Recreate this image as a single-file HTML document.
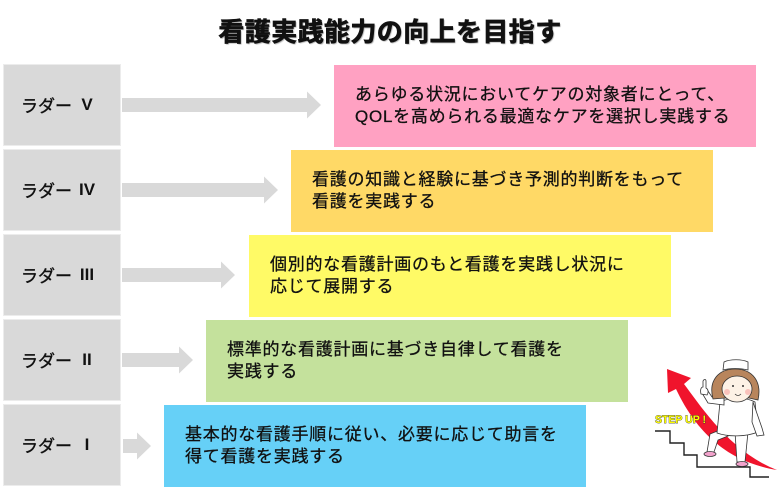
<!DOCTYPE html>
<html><head><meta charset="utf-8">
<style>
html,body{margin:0;padding:0;background:#fff;}
body{width:780px;height:500px;position:relative;overflow:hidden;font-family:"Liberation Sans","Noto Sans CJK JP",sans-serif;}
.title{position:absolute;left:0;width:780px;top:14px;text-align:center;font-size:26px;font-weight:bold;letter-spacing:0.4px;line-height:34px;color:#111;text-shadow:1px 1px 1px #aaa;-webkit-text-stroke:0.7px #111;font-family:"Noto Sans CJK JP",sans-serif;}
.lad{position:absolute;left:3px;width:118px;height:82px;background:#d9d9d9;border:1px solid #ececec;box-sizing:border-box;}
.lt{position:absolute;left:17px;top:29px;font-size:17px;line-height:22px;letter-spacing:0px;color:#111;-webkit-text-stroke:0.4px #111;font-family:"Noto Sans CJK JP",sans-serif;}
.num{position:absolute;left:70px;width:26px;top:29px;text-align:center;font-size:17px;font-weight:bold;line-height:22px;color:#111;font-family:"Liberation Sans",sans-serif;}
.box{position:absolute;width:422px;height:82px;box-sizing:border-box;padding:19px 0 0 21px;font-size:17px;line-height:22px;letter-spacing:0.75px;color:#111;-webkit-text-stroke:0.3px #111;font-family:"Liberation Sans","Noto Sans CJK JP",sans-serif;white-space:nowrap;}
svg{position:absolute;left:0;top:0;}
</style></head><body>
<div class="title">看護実践能力の向上を目指す</div>

<div class="lad" style="top:64px"><span class="lt">ラダー</span><span class="num">V</span></div>
<div class="lad" style="top:149px"><span class="lt">ラダー</span><span class="num">IV</span></div>
<div class="lad" style="top:234px"><span class="lt">ラダー</span><span class="num">III</span></div>
<div class="lad" style="top:319px"><span class="lt">ラダー</span><span class="num">II</span></div>
<div class="lad" style="top:404px"><span class="lt">ラダー</span><span class="num">I</span></div>

<div class="box" style="left:334px;top:65px;background:#ffa1c2;">あらゆる状況においてケアの対象者にとって、<br>QOLを高められる最適なケアを選択し実践する</div>
<div class="box" style="left:291px;top:150px;background:#ffd966;">看護の知識と経験に基づき予測的判断をもって<br>看護を実践する</div>
<div class="box" style="left:249px;top:235px;background:#fffa66;">個別的な看護計画のもと看護を実践し状況に<br>応じて展開する</div>
<div class="box" style="left:206px;top:320px;background:#c4e19c;">標準的な看護計画に基づき自律して看護を<br>実践する</div>
<div class="box" style="left:164px;top:405px;background:#66d0f7;">基本的な看護手順に従い、必要に応じて助言を<br>得て看護を実践する</div>

<svg width="780" height="500" viewBox="0 0 780 500">
  <g fill="#d9d9d9">
    <polygon points="122,98 307,98 307,91.5 321,105 307,118.5 307,112 122,112"/>
    <polygon points="122,183 264,183 264,176.5 278,190 264,203.5 264,197 122,197"/>
    <polygon points="122,268 221,268 221,261.5 235,275 221,288.5 221,282 122,282"/>
    <polygon points="122,353 179,353 179,346.5 193,360 179,373.5 179,367 122,367"/>
    <polygon points="123,439 137,439 137,432.5 151,446 137,459.5 137,453 123,453"/>
  </g>
  <!-- stairs -->
  <polyline points="655,431 670,431 670,443 684,443 684,455 697,455 697,467 750,467 750,477 769,477" fill="none" stroke="#222" stroke-width="1.4"/>
  <!-- red arrow -->
  <path d="M667,369 L691,378 L684,384 C700,405 730,452 777,470 C735,463 700,440 676,389 L668,393 Z" fill="#f0142c"/>
  <!-- STEP UP -->
  <text x="655" y="423" font-family="Liberation Sans, sans-serif" font-weight="bold" font-size="11" fill="#ffff00" stroke="#333" stroke-width="0.7" paint-order="stroke" textLength="51" lengthAdjust="spacingAndGlyphs">STEP UP !</text>
  <!-- nurse -->
  <g stroke="#333" stroke-width="0.8">
    <!-- legs -->
    <path d="M720,430 L710,434 L707,452 L714,452 L718,440 L728,436 Z" fill="#fff"/>
    <path d="M735,432 L737,462 L745,462 L748,432 Z" fill="#fff"/>
    <ellipse cx="710" cy="454" rx="6" ry="2.5" fill="#f2a2cc"/>
    <ellipse cx="742" cy="464" rx="6" ry="2.5" fill="#f2a2cc"/>
    <!-- body -->
    <path d="M720,402 C730,397 746,397 755,402 L758,432 C746,437 728,437 717,433 Z" fill="#fff"/>
    <!-- right arm -->
    <path d="M753,402 L762,428 L764,435 L757,436 L752,422 Z" fill="#fff"/>
    <!-- left arm raised -->
    <path d="M724,405 L708,403 L702,393 L708,391 L712,397 L724,398 Z" fill="#fff"/>
    <path d="M701,394 C700,390 701,387 703,387 L703,381 C704,379 706,379 706,381 L706,388 C708,389 709,392 707,395 Z" fill="#fff"/>
    <!-- hair -->
    <path d="M713,399 C708,380 719,369 735,369 C753,369 762,382 758,400 L749,398 L725,398 Z" fill="#b8855c"/>
    <!-- face -->
    <ellipse cx="737" cy="389" rx="15" ry="13" fill="#fdf2e6"/>
    <!-- cap -->
    <path d="M723,370 L724,362 C730,359 742,359 748,362 L748,370 C740,368 730,368 723,370 Z" fill="#fff"/>
  </g>
  <circle cx="733" cy="386" r="1" fill="#333"/>
  <circle cx="743" cy="386" r="1" fill="#333"/>
  <path d="M735,394 Q738,397 741,394" fill="none" stroke="#333" stroke-width="0.8"/>
  <circle cx="727" cy="392" r="3" fill="#f7b5b0" opacity="0.8"/>
  <circle cx="748" cy="392" r="3" fill="#f7b5b0" opacity="0.8"/>
</svg>
</body></html>
